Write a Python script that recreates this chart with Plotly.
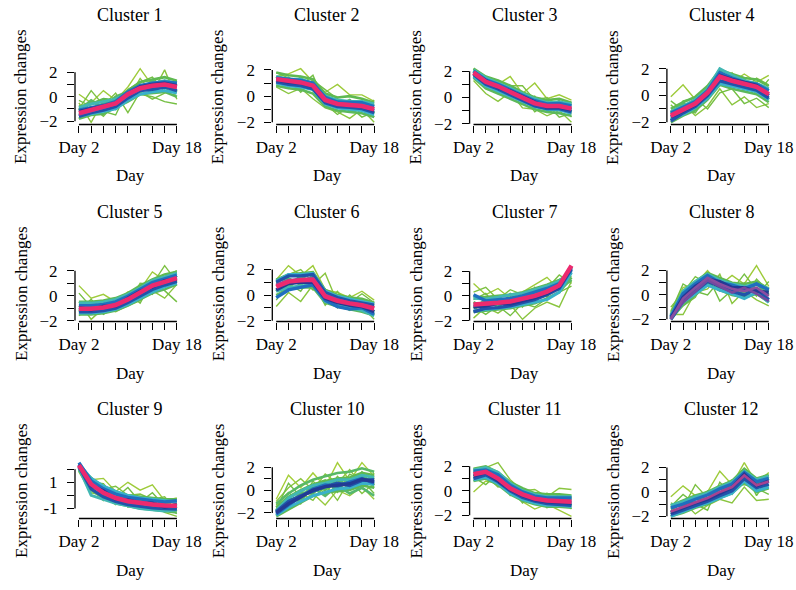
import plotly.graph_objects as go
from plotly.colors import sample_colorscale

DAYS = [2, 4, 6, 8, 10, 12, 14, 16, 18]
X_TICK_TEXT = ["Day 2", "", "", "", "", "", "", "", "Day 18"]
TITLES = [f"Cluster {i}" for i in range(1, 13)]
X_LABEL = "Day"
Y_LABEL = "Expression changes"

Y_TICKS_STD = [-2, -1, 0, 1, 2]
Y_TEXT_STD = ["\u22122", "", "0", "", "2"]
Y_TICKS_C9 = [-1, 0, 1, 2]
Y_TEXT_C9 = ["-1", "", "1", ""]

# (membership, expression profile over DAYS)
CLUSTER_1 = [
    (0.20, [0.2, -0.5, 0.5, -0.3, 0.8, 2.3, 0.9, 1.3, 1.2]),
    (0.30, [-0.5, -2.1, -0.3, -1.0, -0.2, 1.5, 0.3, 2.2, -0.2]),
    (0.35, [-1.0, 0.5, -0.7, 0.3, -1.3, 0.4, -0.2, 0.3, 0.6]),
    (0.38, [-0.3, -0.8, -1.6, -0.5, 0.0, 0.2, 0.0, -0.4, -0.6]),
    (0.39, [-1.8, -0.3, -1.2, -1.5, 0.6, 1.2, 1.6, 0.4, 1.3]),
    (0.46, [-0.8, -0.6, -0.2, -0.3, 0.5, 1.2, 1.4, 1.6, 1.3]),
    (0.47, [-1.8, -1.5, -1.4, -0.9, -0.4, 0.2, 0.3, 0.4, 0.0]),
    (0.48, [-1.1, -0.3, -0.9, 0.0, 0.4, 0.5, 1.3, 0.7, 1.0]),
    (0.49, [-1.5, -1.3, -0.5, -1.0, 0.0, 1.0, 0.6, 1.3, 0.4]),
    (0.55, [-0.9, -0.6, -0.4, -0.2, 0.3, 0.9, 1.1, 1.3, 1.1]),
    (0.58, [-1.6, -1.4, -1.2, -1.0, -0.3, 0.2, 0.4, 0.5, 0.3]),
    (0.70, [-1.1, -0.9, -0.7, -0.4, 0.4, 0.9, 1.1, 1.2, 1.1]),
    (0.75, [-1.6, -1.3, -1.1, -0.8, -0.1, 0.5, 0.6, 0.8, 0.5]),
    (0.80, [-1.2, -1.0, -0.8, -0.55, 0.2, 0.8, 1.0, 1.1, 0.9]),
    (0.90, [-1.45, -1.2, -0.9, -0.6, 0.1, 0.6, 0.85, 0.95, 0.75]),
    (1.00, [-1.35, -1.1, -0.85, -0.55, 0.2, 0.7, 0.9, 1.0, 0.8]),
]
CLUSTER_2 = [
    (0.20, [1.5, 1.7, 2.1, 1.1, 0.3, 0.9, 0.1, 0.1, -0.4]),
    (0.30, [0.7, 0.2, 0.6, -0.2, -0.9, -1.2, -1.7, -1.0, -2.0]),
    (0.35, [1.1, 0.6, 1.5, 0.4, 0.0, -0.5, -0.3, -0.9, -0.3]),
    (0.38, [1.8, 1.4, 0.8, 1.6, -0.6, -1.4, -0.8, -1.6, -1.2]),
    (0.39, [0.8, 1.3, 0.3, 1.2, 0.5, -0.2, -1.2, -0.3, -1.6]),
    (0.46, [1.8, 1.6, 1.5, 1.3, 0.2, -0.1, 0.0, -0.2, -0.5]),
    (0.47, [0.8, 0.6, 0.5, 0.2, -0.8, -1.1, -1.2, -1.3, -1.6]),
    (0.48, [1.5, 0.8, 1.3, 0.5, 0.1, -0.9, -0.3, -1.0, -0.6]),
    (0.49, [1.0, 1.4, 0.7, 1.1, -0.5, -0.3, -1.0, -0.5, -1.3]),
    (0.55, [1.5, 1.3, 1.3, 1.0, 0.0, -0.3, -0.4, -0.4, -0.6]),
    (0.58, [1.0, 0.8, 0.7, 0.5, -0.6, -0.9, -1.0, -1.1, -1.4]),
    (0.70, [1.4, 1.3, 1.2, 1.0, -0.1, -0.45, -0.5, -0.5, -0.8]),
    (0.75, [1.1, 0.9, 0.8, 0.55, -0.5, -0.8, -0.85, -0.95, -1.25]),
    (0.80, [1.25, 1.05, 1.0, 0.75, -0.3, -0.65, -0.7, -0.8, -1.1]),
    (0.90, [1.35, 1.2, 1.1, 0.85, -0.2, -0.55, -0.6, -0.7, -0.95]),
    (1.00, [1.3, 1.15, 1.05, 0.8, -0.3, -0.6, -0.65, -0.75, -1.0]),
]
CLUSTER_3 = [
    (0.20, [1.8, 0.9, 1.0, 1.6, 0.3, 1.1, -0.1, 0.2, -0.2]),
    (0.30, [1.3, 0.3, -0.3, 0.4, -0.8, -0.9, -1.4, -1.0, -1.9]),
    (0.35, [2.0, 1.5, 0.5, 0.9, 0.9, -0.2, 0.0, -0.7, -0.4]),
    (0.38, [1.6, 0.7, 1.3, -0.1, 0.2, -1.1, -0.5, -1.5, -1.2]),
    (0.39, [2.2, 1.0, 0.3, 0.6, -0.4, 0.1, -1.0, -0.2, -1.5]),
    (0.46, [2.2, 1.6, 1.3, 0.9, 0.4, 0.0, -0.2, -0.1, -0.4]),
    (0.47, [1.5, 0.7, 0.3, -0.1, -0.5, -0.9, -1.1, -1.2, -1.4]),
    (0.48, [1.7, 1.5, 0.4, 0.8, -0.4, -0.2, -1.0, -0.4, -1.1]),
    (0.49, [2.0, 0.8, 1.1, 0.0, 0.3, -0.8, -0.3, -0.9, -0.5]),
    (0.55, [2.1, 1.5, 1.1, 0.7, 0.3, -0.1, -0.4, -0.35, -0.5]),
    (0.58, [1.6, 0.9, 0.5, 0.1, -0.35, -0.7, -0.9, -0.95, -1.2]),
    (0.70, [2.0, 1.35, 1.0, 0.6, 0.15, -0.25, -0.5, -0.45, -0.65]),
    (0.75, [1.75, 1.0, 0.65, 0.2, -0.25, -0.65, -0.85, -0.85, -1.1]),
    (0.80, [1.85, 1.3, 0.75, 0.5, 0.05, -0.35, -0.75, -0.75, -0.95]),
    (0.90, [1.95, 1.25, 0.9, 0.45, 0.0, -0.4, -0.6, -0.6, -0.8]),
    (1.00, [1.9, 1.2, 0.85, 0.4, -0.05, -0.45, -0.65, -0.65, -0.85]),
]
CLUSTER_4 = [
    (0.20, [-0.1, 0.8, -0.3, 0.3, 1.5, 1.0, 1.6, 1.0, 1.5]),
    (0.30, [-1.2, -0.6, -1.5, -0.8, 0.5, -0.7, -0.1, -0.9, -0.6]),
    (0.35, [-0.7, -1.5, -0.9, -0.3, 0.9, 1.7, 0.4, 1.3, 0.8]),
    (0.38, [-1.8, -0.4, -0.2, -1.0, 0.2, 0.5, -0.6, -0.2, -0.9]),
    (0.39, [-0.4, -1.1, -1.3, 0.1, 1.9, 0.7, 1.1, 0.1, 1.2]),
    (0.46, [-1.0, -0.5, -0.1, 0.7, 1.9, 1.6, 1.3, 1.2, 0.7]),
    (0.47, [-2.0, -1.5, -1.1, -0.3, 0.8, 0.5, 0.3, 0.1, -0.5]),
    (0.48, [-1.3, -0.6, -1.0, 0.5, 1.0, 1.4, 0.5, 0.9, -0.3]),
    (0.49, [-1.7, -1.3, -0.3, -0.1, 1.6, 0.7, 1.2, 0.3, 0.5]),
    (0.55, [-1.2, -0.8, -0.3, 0.5, 2.0, 1.5, 1.1, 0.9, 0.5]),
    (0.58, [-1.8, -1.4, -0.9, -0.2, 0.9, 0.7, 0.5, 0.3, -0.3]),
    (0.70, [-1.3, -0.9, -0.45, 0.35, 1.7, 1.3, 1.0, 0.85, 0.35]),
    (0.75, [-1.9, -1.3, -0.8, 0.0, 1.1, 0.85, 0.6, 0.4, -0.2]),
    (0.80, [-1.6, -1.15, -0.7, 0.1, 1.5, 1.2, 0.95, 0.75, 0.0]),
    (0.90, [-1.55, -1.1, -0.65, 0.15, 1.35, 1.05, 0.8, 0.6, 0.05]),
    (1.00, [-1.5, -1.05, -0.6, 0.2, 1.4, 1.1, 0.85, 0.65, 0.1]),
]
CLUSTER_5 = [
    (0.20, [0.8, -0.2, 0.1, -0.5, 0.3, 0.5, 1.9, 1.2, 1.6]),
    (0.30, [-0.5, -1.9, -1.0, -1.3, -0.8, -0.4, 0.4, -0.2, 0.9]),
    (0.35, [-1.6, -0.8, -1.4, -0.4, -0.6, 1.0, 0.9, 2.4, 1.1]),
    (0.38, [0.2, -0.9, -0.6, -1.1, 0.2, -0.6, 1.2, 0.4, -0.5]),
    (0.39, [-1.2, -0.3, -1.5, -0.9, -0.1, 0.6, 0.1, 1.5, 2.0]),
    (0.46, [-0.5, -0.5, -0.4, -0.2, 0.2, 0.8, 1.3, 1.7, 1.9]),
    (0.47, [-1.5, -1.5, -1.4, -1.2, -0.8, -0.3, 0.2, 0.5, 0.9]),
    (0.48, [-0.8, -1.3, -0.6, -1.0, 0.0, 0.0, 1.1, 0.8, 1.6]),
    (0.49, [-1.3, -0.7, -1.2, -0.5, -0.6, 0.5, 0.5, 1.4, 1.1]),
    (0.55, [-0.6, -0.6, -0.5, -0.3, 0.1, 0.6, 1.2, 1.5, 1.8]),
    (0.58, [-1.4, -1.4, -1.3, -1.1, -0.7, -0.2, 0.3, 0.7, 1.0]),
    (0.70, [-0.8, -0.8, -0.7, -0.5, -0.05, 0.5, 1.05, 1.35, 1.65]),
    (0.75, [-1.3, -1.3, -1.2, -1.0, -0.55, 0.0, 0.5, 0.85, 1.15]),
    (0.80, [-0.95, -1.15, -0.85, -0.85, -0.2, 0.35, 0.7, 1.2, 1.3]),
    (0.90, [-1.1, -1.0, -1.0, -0.7, -0.35, 0.2, 0.75, 1.05, 1.45]),
    (1.00, [-1.05, -1.05, -0.95, -0.75, -0.3, 0.25, 0.8, 1.1, 1.4]),
]
CLUSTER_6 = [
    (0.20, [1.2, 2.3, 1.5, 2.3, 0.4, 0.2, -0.2, 0.3, -0.4]),
    (0.30, [-0.9, 0.2, -0.5, 0.8, 1.7, -0.6, -1.2, -0.5, -1.5]),
    (0.35, [0.3, 1.6, 2.0, 1.0, -0.8, 0.3, -0.9, -1.3, -0.7]),
    (0.38, [1.0, 0.6, 1.3, 0.4, 0.5, -1.0, 0.0, -0.9, -1.9]),
    (0.39, [-0.4, 0.9, 0.3, 1.7, -0.4, -0.3, -0.6, 0.1, -0.6]),
    (0.46, [1.2, 1.6, 1.7, 1.8, 0.4, 0.0, -0.2, -0.3, -0.6]),
    (0.47, [0.0, 0.5, 0.6, 0.6, -0.6, -0.9, -1.1, -1.3, -1.6]),
    (0.48, [0.9, 0.7, 1.5, 0.9, 0.2, -0.7, -0.4, -1.0, -0.8]),
    (0.49, [0.3, 1.3, 0.8, 1.5, -0.4, -0.2, -0.9, -0.5, -1.3]),
    (0.55, [0.3, 0.6, 0.7, 0.8, -0.5, -0.8, -1.0, -1.2, -1.6]),
    (0.58, [1.1, 1.6, 1.6, 1.7, 0.3, -0.1, -0.3, -0.5, -0.7]),
    (0.70, [-0.2, 0.4, 0.6, 0.8, -0.4, -0.9, -1.1, -1.0, -1.5]),
    (0.75, [1.0, 1.5, 1.5, 1.6, 0.2, -0.2, -0.45, -0.6, -0.8]),
    (0.80, [0.4, 0.9, 1.0, 1.0, -0.25, -0.6, -0.8, -0.9, -1.3]),
    (0.90, [0.8, 1.15, 1.25, 1.3, 0.0, -0.35, -0.6, -0.75, -1.0]),
    (1.00, [0.65, 1.05, 1.15, 1.2, -0.1, -0.45, -0.65, -0.8, -1.05]),
]
CLUSTER_7 = [
    (0.20, [1.0, 0.1, 0.6, -0.2, 0.3, 0.9, 1.5, 0.5, 1.9]),
    (0.30, [-1.8, -0.9, -1.4, -0.7, -1.9, -1.0, -0.5, -0.9, 1.2]),
    (0.35, [0.3, 0.7, -0.3, 0.5, 0.1, -0.4, 0.6, 1.7, 1.0]),
    (0.38, [-0.9, -1.5, -0.8, -1.6, -0.6, -0.9, -0.2, 0.3, 0.8]),
    (0.39, [-0.3, 0.2, -1.0, 0.2, -0.9, 0.7, -0.1, 1.0, 1.6]),
    (0.46, [-0.1, -0.1, 0.0, 0.1, 0.3, 0.6, 0.9, 1.3, 1.8]),
    (0.47, [-1.3, -1.2, -1.1, -1.0, -0.8, -0.6, -0.2, 0.3, 1.5]),
    (0.48, [-0.5, -1.0, -0.3, -0.8, 0.0, -0.3, 0.6, 0.5, 1.3]),
    (0.49, [-1.0, -0.3, -0.9, -0.1, -0.6, 0.3, 0.1, 1.1, 2.1]),
    (0.55, [-0.2, -0.25, -0.1, 0.1, 0.2, 0.5, 0.8, 1.2, 2.0]),
    (0.58, [-1.2, -1.1, -1.0, -0.9, -0.7, -0.5, -0.3, 0.3, 1.9]),
    (0.70, [0.1, -0.4, -0.3, -0.2, 0.0, 0.3, 0.6, 1.0, 2.1]),
    (0.75, [-1.3, -1.0, -0.95, -0.8, -0.55, -0.3, 0.1, 0.6, 2.2]),
    (0.80, [-0.9, -0.8, -0.6, -0.65, -0.4, -0.15, 0.2, 0.75, 2.35]),
    (0.90, [-0.75, -0.7, -0.6, -0.5, -0.3, -0.05, 0.3, 0.8, 2.4]),
    (1.00, [-0.7, -0.65, -0.55, -0.45, -0.25, 0.0, 0.35, 0.85, 2.45]),
]
CLUSTER_8 = [
    (0.20, [-1.3, 0.6, 0.9, 2.0, 0.8, 1.6, 0.9, 2.4, 0.7]),
    (0.30, [-1.6, -1.6, 0.2, 0.5, 1.7, -0.7, 0.3, -0.4, -0.9]),
    (0.35, [-1.0, 0.2, 1.5, 0.9, 0.3, 0.9, -0.3, 1.3, 0.3]),
    (0.38, [-1.8, -0.9, -0.2, 1.6, -0.5, 0.4, 1.7, 0.4, -0.3]),
    (0.39, [-1.4, 0.9, 0.3, 0.0, 1.2, 0.0, 1.0, -0.1, 1.1]),
    (0.46, [-1.6, 0.3, 1.1, 1.8, 1.4, 1.0, 0.9, 1.1, 0.5]),
    (0.47, [-2.0, -0.8, 0.0, 0.9, 0.4, 0.0, -0.2, 0.1, -0.6]),
    (0.48, [-1.8, 0.0, 0.4, 1.5, 0.5, 0.8, 0.1, 0.9, 0.0]),
    (0.49, [-1.9, -0.5, 0.9, 1.0, 1.1, 0.3, 0.6, 0.3, 0.3]),
    (0.55, [-1.7, 0.3, 1.1, 1.7, 1.2, 0.9, 0.7, 0.9, 0.5]),
    (0.58, [-2.0, -0.6, 0.1, 0.8, 0.4, 0.1, -0.3, 0.2, -0.6]),
    (0.70, [-1.8, 0.1, 0.9, 1.6, 1.0, 0.8, 0.5, 0.9, 0.4]),
    (0.75, [-2.0, -0.5, 0.3, 1.1, 0.7, 0.3, 0.0, 0.5, -0.4]),
    (0.80, [-1.9, -0.2, 0.7, 1.3, 1.1, 0.6, 0.6, 0.3, 0.2]),
    (0.88, [-1.9, -0.6, 0.3, 1.2, 0.7, 0.2, 0.6, 0.1, -0.5]),
    (0.90, [-2.0, -0.3, 0.6, 1.4, 0.9, 0.5, 0.3, 0.6, -0.1]),
]
CLUSTER_9 = [
    (0.20, [2.1, 1.2, 1.3, 0.3, 1.0, 0.4, 0.8, -0.4, -0.2]),
    (0.30, [1.8, 0.2, 0.0, -0.7, -0.2, -1.0, -0.6, -1.3, -1.6]),
    (0.35, [2.2, 1.4, 0.5, 0.7, 0.0, 0.1, -0.3, -0.1, -1.2]),
    (0.38, [1.9, 0.6, -0.4, 0.1, -0.9, -0.3, -1.1, -0.6, -0.5]),
    (0.39, [2.0, 1.0, 0.9, -0.2, 0.6, -0.5, 0.2, -0.8, -1.4]),
    (0.46, [2.2, 1.3, 0.7, 0.3, 0.0, -0.1, -0.2, -0.3, -0.3]),
    (0.47, [2.1, 0.4, -0.2, -0.6, -0.8, -1.0, -1.1, -1.2, -1.3]),
    (0.48, [1.9, 1.0, 0.0, 0.2, -0.7, -0.3, -0.9, -0.5, -1.0]),
    (0.49, [2.0, 0.6, 0.5, -0.4, -0.1, -0.8, -0.4, -1.0, -0.6]),
    (0.55, [2.1, 0.0, -0.3, -0.6, -0.8, -1.0, -1.1, -1.2, -1.1]),
    (0.58, [2.4, 1.3, 0.7, 0.3, 0.0, -0.2, -0.3, -0.4, -0.5]),
    (0.70, [2.5, 1.1, 0.5, 0.1, -0.15, -0.3, -0.4, -0.5, -0.4]),
    (0.75, [2.2, 0.5, -0.1, -0.45, -0.7, -0.85, -0.95, -1.0, -1.05]),
    (0.80, [2.35, 0.75, 0.35, -0.3, -0.35, -0.55, -0.6, -0.9, -0.7]),
    (0.90, [2.3, 0.9, 0.25, -0.15, -0.4, -0.55, -0.65, -0.75, -0.75]),
    (1.00, [2.3, 0.85, 0.2, -0.2, -0.45, -0.6, -0.7, -0.78, -0.8]),
]
CLUSTER_10 = [
    (0.15, [-0.8, 1.3, 0.2, 1.5, 0.3, 2.4, 0.8, 2.4, 1.2]),
    (0.25, [-1.5, -0.7, -1.0, -0.3, -1.3, 0.0, -0.5, 0.3, -0.8]),
    (0.30, [-1.0, 0.2, 1.0, 0.0, 1.4, 0.6, 1.8, 0.4, 1.5]),
    (0.33, [-2.1, -1.6, -0.3, -0.9, 0.5, -0.9, 0.9, -0.3, 0.6]),
    (0.36, [-1.3, -0.2, -1.2, 0.8, -0.4, 1.2, 0.1, 1.6, 0.2]),
    (0.39, [-1.7, 0.6, -0.6, 0.5, 0.9, -0.2, 1.4, 0.9, -0.3]),
    (0.46, [-1.5, -0.6, 0.0, 0.5, 0.8, 1.0, 1.1, 1.5, 1.3]),
    (0.46, [-2.3, -1.7, -1.1, -0.5, -0.2, -0.1, 0.0, 0.4, 0.2]),
    (0.47, [-1.8, -0.8, -0.9, 0.4, 0.0, 0.9, 0.3, 1.3, 0.4]),
    (0.47, [-2.2, -1.4, -0.2, -0.3, 0.7, 0.1, 0.9, 0.6, 1.1]),
    (0.48, [-1.2, -0.3, 0.4, 0.9, 1.2, 1.5, 1.6, 1.9, 1.6]),
    (0.49, [-1.9, -1.0, -0.7, 0.2, -0.5, 0.4, -0.3, 0.2, -0.5]),
    (0.55, [-1.8, -0.7, -0.1, 0.4, 0.6, 0.9, 0.9, 1.3, 1.1]),
    (0.58, [-2.2, -1.5, -1.0, -0.5, -0.2, 0.1, 0.2, 0.6, 0.5]),
    (0.70, [-2.1, -1.3, -0.6, 0.1, 0.45, 0.35, 0.7, 1.0, 0.6]),
    (0.75, [-1.9, -1.0, -0.5, -0.1, 0.3, 0.6, 0.4, 0.85, 0.9]),
    (0.80, [-2.0, -1.2, -0.6, 0.0, 0.3, 0.45, 0.55, 0.95, 0.75]),
]
CLUSTER_11 = [
    (0.20, [-0.1, 0.8, 0.6, -0.2, -0.9, -1.5, -1.1, -1.6, -2.1]),
    (0.30, [1.6, 1.9, 2.3, 0.9, 0.0, 0.1, -0.5, 0.2, 0.1]),
    (0.35, [0.8, 1.2, 0.3, 0.5, -0.6, -0.3, -1.4, -0.6, -1.2]),
    (0.38, [1.1, 0.5, 1.4, -0.4, 0.2, -0.9, -0.2, -1.2, -0.5]),
    (0.39, [1.8, 1.4, 0.9, 0.3, -1.0, -0.2, -0.9, -0.3, -1.5]),
    (0.46, [1.8, 2.0, 1.5, 0.7, 0.2, -0.2, -0.3, -0.3, -0.4]),
    (0.47, [0.8, 1.0, 0.5, -0.3, -0.8, -1.1, -1.3, -1.3, -1.4]),
    (0.48, [1.2, 1.8, 0.7, 0.5, -0.6, -0.4, -1.1, -0.6, -1.2]),
    (0.49, [1.6, 1.2, 1.3, -0.1, 0.0, -0.9, -0.5, -1.1, -0.6]),
    (0.55, [1.7, 1.9, 1.5, 0.6, 0.0, -0.3, -0.5, -0.5, -0.5]),
    (0.58, [0.9, 1.1, 0.6, -0.2, -0.7, -1.0, -1.2, -1.2, -1.3]),
    (0.70, [1.6, 1.7, 1.3, 0.45, -0.1, -0.45, -0.6, -0.6, -0.6]),
    (0.75, [1.0, 1.3, 0.75, 0.0, -0.55, -0.85, -1.05, -1.1, -1.2]),
    (0.80, [1.2, 1.5, 0.8, 0.1, -0.4, -0.75, -0.9, -0.95, -1.0]),
    (0.90, [1.4, 1.6, 1.05, 0.25, -0.25, -0.6, -0.75, -0.8, -0.85]),
    (1.00, [1.35, 1.55, 1.0, 0.2, -0.3, -0.65, -0.8, -0.85, -0.9]),
]
CLUSTER_12 = [
    (0.20, [-0.4, 0.5, -0.3, 0.0, 1.7, 0.6, 2.4, 0.7, 1.6]),
    (0.30, [-1.6, -0.8, -1.8, -1.1, -0.6, -0.9, 0.4, -0.7, -0.6]),
    (0.35, [-0.9, -1.3, 0.6, -0.5, 0.4, 1.0, 1.1, 1.0, 0.3]),
    (0.38, [-1.2, -0.2, -1.0, -1.5, 0.8, -0.2, 1.8, -0.3, 1.2]),
    (0.39, [-2.0, -1.1, -0.6, 0.1, -0.4, 0.5, 0.6, 0.3, -0.2]),
    (0.46, [-1.1, -0.7, -0.3, 0.0, 0.5, 0.9, 1.9, 1.1, 1.4]),
    (0.47, [-2.0, -1.7, -1.3, -1.0, -0.5, -0.1, 0.8, 0.0, 0.3]),
    (0.48, [-1.4, -0.9, -1.1, -0.2, -0.3, 0.7, 1.0, 0.8, 0.5]),
    (0.49, [-1.8, -1.4, -0.5, -0.8, 0.3, 0.1, 1.6, 0.3, 1.1]),
    (0.55, [-1.1, -0.8, -0.4, -0.1, 0.4, 0.8, 1.7, 1.0, 1.3]),
    (0.58, [-2.0, -1.6, -1.2, -0.9, -0.5, -0.1, 0.9, 0.1, 0.4]),
    (0.70, [-1.3, -1.0, -0.6, -0.25, 0.25, 0.65, 1.6, 0.85, 1.1]),
    (0.75, [-1.85, -1.5, -1.1, -0.75, -0.3, 0.1, 1.1, 0.35, 0.65]),
    (0.80, [-1.7, -1.3, -0.9, -0.6, -0.1, 0.35, 1.45, 0.5, 0.9]),
    (0.93, [-1.6, -1.25, -0.85, -0.5, 0.0, 0.4, 1.35, 0.55, 0.85]),
]

CLUSTERS = [CLUSTER_1, CLUSTER_2, CLUSTER_3, CLUSTER_4, CLUSTER_5, CLUSTER_6,
            CLUSTER_7, CLUSTER_8, CLUSTER_9, CLUSTER_10, CLUSTER_11, CLUSTER_12]

MEMBERSHIP_SCALE = [
    [0.00, "#B9D531"],
    [0.25, "#97C93C"],
    [0.45, "#62B947"],
    [0.52, "#4CB88E"],
    [0.57, "#3CB6CB"],
    [0.70, "#1F6FBF"],
    [0.80, "#233A94"],
    [0.90, "#8A4DA0"],
    [1.00, "#EC2A6E"],
]

FONT = "Liberation Serif"
FIG_W, FIG_H = 796, 590


def line_width(m):
    if m < 0.45:
        return 1.4
    if m < 0.5:
        return 2.6
    if m < 0.65:
        return 3.0
    if m < 0.85:
        return 3.4
    if m < 0.95:
        return 2.6
    return 4.5


fig = go.Figure()
annotations = []
shapes = []
layout_axes = {}

for k, prof in enumerate(CLUSTERS):
    n = k + 1
    sfx = "" if n == 1 else str(n)
    r, c = divmod(k, 4)
    ax_px = 75 + 197.3 * c
    right_px = ax_px + 105.8
    bottom_px = 124.5 + 197 * r
    top_px = bottom_px - 58

    for m, vals in sorted(prof, key=lambda t: t[0]):
        col = sample_colorscale(MEMBERSHIP_SCALE, [m])[0]
        fig.add_trace(go.Scatter(
            x=DAYS, y=vals, mode="lines",
            line=dict(color=col, width=line_width(m)),
            xaxis="x" + sfx, yaxis="y" + sfx,
            showlegend=False, hoverinfo="skip"))

    allv = [v for _, vals in prof for v in vals]
    lo, hi = min(allv), max(allv)
    pad = 0.04 * (hi - lo)
    if n == 9:
        yt, ytt = Y_TICKS_C9, Y_TEXT_C9
    else:
        yt, ytt = Y_TICKS_STD, Y_TEXT_STD

    xpad = 0.04 * (DAYS[-1] - DAYS[0])
    layout_axes["xaxis" + sfx] = dict(
        domain=[ax_px / FIG_W, right_px / FIG_W], anchor="y" + sfx,
        range=[DAYS[0] - xpad, DAYS[-1] + xpad], automargin=False,
        tickmode="array", tickvals=DAYS, ticktext=X_TICK_TEXT,
        ticks="outside", ticklen=7, tickwidth=1.3, tickcolor="black",
        showline=False, showgrid=False, zeroline=False,
        tickfont=dict(family=FONT, size=17, color="black"),
        ticklabelstandoff=0, fixedrange=True)
    layout_axes["yaxis" + sfx] = dict(
        domain=[1 - bottom_px / FIG_H, 1 - top_px / FIG_H], anchor="x" + sfx,
        range=[lo - pad, hi + pad], automargin=False,
        tickmode="array", tickvals=yt, ticktext=ytt,
        ticks="outside", ticklen=7, tickwidth=1.3, tickcolor="black",
        showline=False, showgrid=False, zeroline=False,
        tickfont=dict(family=FONT, size=17, color="black"),
        ticklabelstandoff=6, fixedrange=True)

    shapes.append(dict(type="line", xref=f"x{sfx} domain", yref="y" + sfx,
                       x0=0, x1=0, y0=yt[0], y1=yt[-1],
                       line=dict(color="black", width=1.3)))
    shapes.append(dict(type="line", xref="x" + sfx, yref=f"y{sfx} domain",
                       x0=DAYS[0], x1=DAYS[-1], y0=0, y1=0,
                       line=dict(color="black", width=1.3)))

    cx = (ax_px + 55) / FIG_W
    annotations.append(dict(text=TITLES[k], x=cx, y=1 - (15 + 197 * r) / FIG_H,
                            xref="paper", yref="paper", showarrow=False,
                            xanchor="center", yanchor="middle",
                            font=dict(family=FONT, size=18, color="black")))
    annotations.append(dict(text=X_LABEL, x=cx, y=1 - (176 + 197 * r) / FIG_H,
                            xref="paper", yref="paper", showarrow=False,
                            xanchor="center", yanchor="middle",
                            font=dict(family=FONT, size=17, color="black")))
    annotations.append(dict(text=Y_LABEL, x=(ax_px - 54) / FIG_W,
                            y=1 - (97 + 197 * r) / FIG_H,
                            xref="paper", yref="paper", showarrow=False,
                            textangle=-90, xanchor="center", yanchor="middle",
                            font=dict(family=FONT, size=17, color="black")))

fig.update_layout(
    width=FIG_W, height=FIG_H,
    margin=dict(l=0, r=0, t=0, b=0),
    paper_bgcolor="white", plot_bgcolor="white",
    showlegend=False,
    annotations=annotations, shapes=shapes,
    **layout_axes)

fig.write_html("out.html", config={"displayModeBar": False},
               post_script="document.body.style.margin='0';"
                           "document.body.style.overflow='hidden';")
